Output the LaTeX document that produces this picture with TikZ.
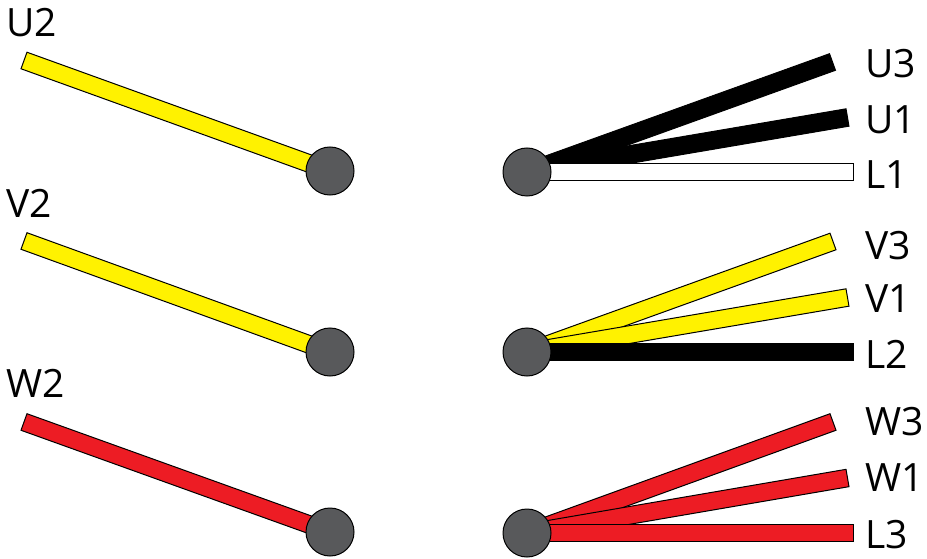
\documentclass[tikz,border=0pt]{standalone}
\usepackage{fontspec}
\setmainfont{Open Sans}
\usetikzlibrary{calc}
\definecolor{wyellow}{HTML}{FFF200}
\definecolor{wred}{HTML}{ED1C24}
\definecolor{hubgray}{HTML}{58595B}
\tikzset{
  hub/.style={circle, draw=black, line width=1pt, fill=hubgray, minimum size=48pt, inner sep=0pt},
  lbl/.style={anchor=base west, inner sep=0pt, font=\fontsize{39}{39}\selectfont},
  wirestyle/.style={draw=black, line width=1pt, line join=miter}
}
\newcommand\wirebar[3]{%
  \filldraw[wirestyle, fill=#3] ($(#1)!8.8pt!90:(#2)$) -- ($(#2)!8.8pt!-90:(#1)$) -- ($(#2)!8.8pt!90:(#1)$) -- ($(#1)!8.8pt!-90:(#2)$) -- cycle;}
\begin{document}
\begin{tikzpicture}[x=1pt,y=-1pt]
\useasboundingbox (0,0) rectangle (927,559);
% hub centres
\coordinate (hl1) at (330,171);
\coordinate (hl2) at (330,352);
\coordinate (hl3) at (330,532);
\coordinate (hr1) at (527,172);
\coordinate (hr2) at (527,352);
\coordinate (hr3) at (527,533);
% wire ends
\coordinate (eU2) at (24,60.5);
\coordinate (eV2) at (24,241);
\coordinate (eW2) at (24,422);
\coordinate (eU3) at (832.5,62);
\coordinate (eU1) at (847.5,117.5);
\coordinate (eL1) at (853,172);
\coordinate (eV3) at (833,241.5);
\coordinate (eV1) at (847.5,297.5);
\coordinate (eL2) at (853,352);
\coordinate (eW3) at (833,422);
\coordinate (eW1) at (847.5,478);
\coordinate (eL3) at (853,533);
% left wires
\wirebar{eU2}{hl1}{wyellow}
\wirebar{eV2}{hl2}{wyellow}
\wirebar{eW2}{hl3}{wred}
% right wires
\wirebar{hr1}{eU3}{black}
\wirebar{hr1}{eU1}{black}
\wirebar{hr1}{eL1}{white}
\wirebar{hr2}{eV3}{wyellow}
\wirebar{hr2}{eV1}{wyellow}
\wirebar{hr2}{eL2}{black}
\wirebar{hr3}{eW3}{wred}
\wirebar{hr3}{eW1}{wred}
\wirebar{hr3}{eL3}{wred}
% hubs
\node[hub] (cl1) at (hl1) {};
\node[hub] (cl2) at (hl2) {};
\node[hub] (cl3) at (hl3) {};
\node[hub] (cr1) at (hr1) {};
\node[hub] (cr2) at (hr2) {};
\node[hub] (cr3) at (hr3) {};
% labels
\node[lbl] (tU2) at (6,37) {U2};
\node[lbl] (tV2) at (6,218) {V2};
\node[lbl] (tW2) at (6,397) {W2};
\node[lbl] (tU3) at (865,78) {U3};
\node[lbl] (tU1) at (865,134) {U1};
\node[lbl] (tL1) at (865,189) {L1};
\node[lbl] (tV3) at (865,259) {V3};
\node[lbl] (tV1) at (865,312) {V1};
\node[lbl] (tL2) at (865,368) {L2};
\node[lbl] (tW3) at (865,435) {W3};
\node[lbl] (tW1) at (865,491) {W1};
\node[lbl] (tL3) at (865,548) {L3};
\end{tikzpicture}
\end{document}
